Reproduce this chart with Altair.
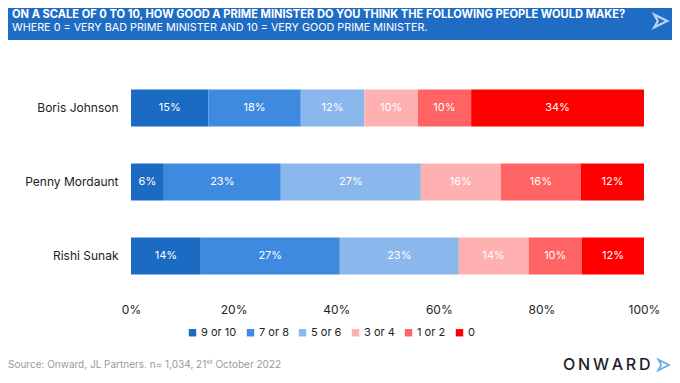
import altair as alt
import pandas as pd

people = ["Boris Johnson", "Penny Mordaunt", "Rishi Sunak"]
categories = ["9 or 10", "7 or 8", "5 or 6", "3 or 4", "1 or 2", "0"]
colors = ["#1c6bc3", "#3d8ae0", "#8ab8ec", "#ffb1b1", "#ff6363", "#ff0000"]
boris = [15.1, 18.0, 12.4, 10.4, 10.4, 33.7]
penny = [6.4, 22.8, 27.3, 15.6, 15.6, 12.3]
rishi = [13.6, 27.1, 23.2, 13.6, 10.4, 12.1]
x_ticks = [0, 0.2, 0.4, 0.6, 0.8, 1.0]

title_text = "ON A SCALE OF 0 TO 10, HOW GOOD A PRIME MINISTER DO YOU THINK THE FOLLOWING PEOPLE WOULD MAKE?"
subtitle_text = "WHERE 0 = VERY BAD PRIME MINISTER AND 10 = VERY GOOD PRIME MINISTER."
source_text = "Source: Onward, JL Partners. n= 1,034, 21ˢᵗ October 2022"
logo_text = "O\u2009N\u2009W\u2009A\u2009R\u2009D"

rows = []
for name, vals in zip(people, [boris, penny, rishi]):
    for i, (cat, v) in enumerate(zip(categories, vals)):
        rows.append({"person": name, "cat": cat, "order": i, "value": v / 100.0})
df = pd.DataFrame(rows)

FONT = "Inter"
PLOT_W, PLOT_H = 513, 222
PAD_L, PAD_T, PAD_R, PAD_B = 123, 63, 28, 82

base = alt.Chart(df)

y_enc = alt.Y("person:N", sort=people, title=None,
              scale=alt.Scale(paddingInner=0.5, paddingOuter=0.25),
              axis=alt.Axis(domain=False, ticks=False, labelPadding=13,
                            labelFontSize=12, labelColor="#222222", labelFont=FONT))

bars = base.mark_bar().encode(
    x=alt.X("sum(value):Q", stack="zero", title=None,
            scale=alt.Scale(domain=[0, 1], nice=False),
            axis=alt.Axis(values=x_ticks, format=".0%", domain=False, ticks=False,
                          grid=False, labelPadding=11, labelFontSize=12,
                          labelFlush=False,
                          labelColor="#222222", labelFont=FONT)),
    y=y_enc,
    color=alt.Color("cat:N", sort=categories,
                    scale=alt.Scale(domain=categories, range=colors),
                    legend=alt.Legend(title=None, orient="none", direction="horizontal",
                                      columns=6, legendX=56, legendY=256,
                                      symbolType="square", symbolSize=55,
                                      symbolStrokeWidth=0, columnPadding=8,
                                      labelFontSize=11, labelColor="#222222",
                                      labelFont=FONT, labelOffset=3)),
    order=alt.Order("order:Q"),
)

labels = base.transform_stack(
    stack="value", groupby=["person"], as_=["v0", "v1"],
    sort=[alt.SortField("order", order="ascending")]
).transform_calculate(
    mid="(datum.v0 + datum.v1) / 2"
).mark_text(color="white", fontSize=11, font=FONT).encode(
    x=alt.X("mid:Q"),
    y=alt.Y("person:N", sort=people),
    text=alt.Text("value:Q", format=".0%"),
)

header_df = pd.DataFrame({"k": [0]})
hb = alt.Chart(header_df)
header = hb.mark_rect(color="#1f6cc4").encode(
    x=alt.value(-PAD_L), x2=alt.value(PLOT_W + PAD_R),
    y=alt.value(-PAD_T), y2=alt.value(-31))
title = hb.mark_text(align="left", baseline="middle", color="white",
                     fontSize=11.1, fontWeight="bold", font=FONT,
                     text=title_text).encode(x=alt.value(-119), y=alt.value(-56))
subtitle = hb.mark_text(align="left", baseline="middle", color="white",
                        fontSize=10.8, font=FONT,
                        text=subtitle_text).encode(x=alt.value(-119), y=alt.value(-43))
arrow_path = "M -0.8 -0.9 L 1 0 L -0.8 0.9 L -0.3 0 Z"
icon = hb.mark_point(shape=arrow_path, filled=False, stroke="white",
                     strokeWidth=2.2, size=210).encode(
    x=alt.value(529), y=alt.value(-50))
source = hb.mark_text(align="left", baseline="middle", color="#9a9a9a",
                      fontSize=10, font=FONT, text=source_text).encode(
    x=alt.value(-PAD_L), y=alt.value(294))
logo = hb.mark_text(align="left", baseline="middle", color="#1b1d2a",
                    fontSize=16, fontWeight=500, font=FONT,
                    text=logo_text).encode(x=alt.value(432), y=alt.value(294))
logo_arrow = hb.mark_point(shape=arrow_path, filled=False, stroke="#2b8fd6",
                           strokeWidth=1.8, size=140).encode(
    x=alt.value(532), y=alt.value(294))

chart = alt.layer(header, title, subtitle, icon, bars, labels, source, logo, logo_arrow).properties(
    width=PLOT_W, height=PLOT_H,
    autosize=alt.AutoSizeParams(type="none"),
    padding={"left": PAD_L, "top": PAD_T, "right": PAD_R, "bottom": PAD_B},
).configure_view(stroke=None)

chart.save("out.html", embed_options={"renderer": "svg", "actions": False})
